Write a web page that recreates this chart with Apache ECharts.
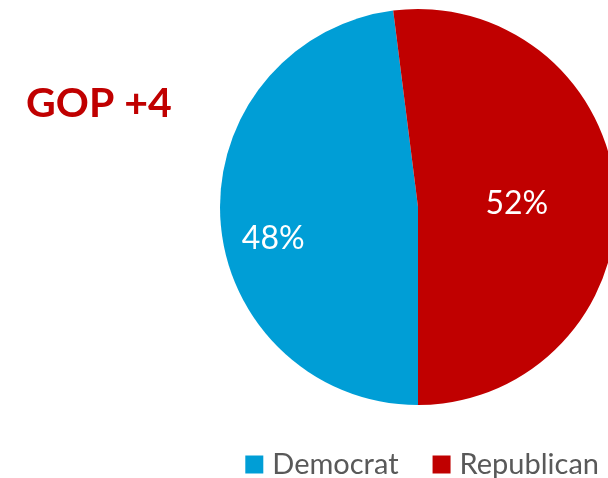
<!DOCTYPE html>
<html><head><meta charset="utf-8">
<script src="https://cdn.jsdelivr.net/npm/echarts@6/dist/echarts.min.js"></script>
<style>html,body{margin:0;padding:0;background:#fff}#c{width:608px;height:478px}</style>
</head><body><div id="c"></div>
<script>
const categories = ['Democrat', 'Republican'];
const values = [48, 52];
const colors = ['#009ED6', '#C00000'];
const headline = 'GOP +4';

const chart = echarts.init(document.getElementById('c'), null, {renderer: 'canvas'});
const font = 'Lato, Calibri, "Noto Sans", sans-serif';
chart.setOption({
  animation: false,
  title: {
    text: headline, left: 21, top: 78,
    textStyle: {color: '#C00000', fontSize: 41, fontWeight: 'bold', fontFamily: font}
  },
  legend: {
    data: categories, right: 4, top: 445, icon: 'rect', itemWidth: 18, itemHeight: 18, itemGap: 34,
    textStyle: {color: '#595959', fontSize: 29, fontFamily: font, padding: [0, 0, 0, 4]}
  },
  series: [{
    type: 'pie', center: [418, 207], radius: 198, startAngle: -90, clockwise: true,
    label: {show: true, position: 'inside', formatter: '{d}%', color: '#fff', fontSize: 32, fontFamily: font, offset: [-3, 3]},
    labelLine: {show: false},
    itemStyle: {borderWidth: 0},
    emphasis: {disabled: true},
    data: categories.map((n, i) => ({
      name: n, value: values[i], itemStyle: {color: colors[i]},
      label: i === 0 ? {offset: [-43, 25]} : {}
    }))
  }]
});
</script></body></html>
